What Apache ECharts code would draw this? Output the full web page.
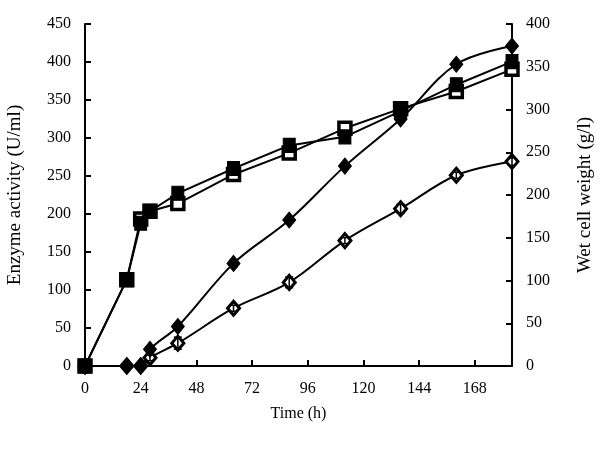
<!DOCTYPE html>
<html>
<head>
<meta charset="utf-8">
<script src="https://cdn.jsdelivr.net/npm/echarts@6/dist/echarts.min.js"></script>
<style>
html,body{margin:0;padding:0;background:#fff;}
#c{width:600px;height:450px;}
</style>
</head>
<body>
<div id="c"></div>
<script>
// Data
const hours = [0, 18, 24, 28, 40, 64, 88, 112, 136, 160, 184];
const enzymeFilled = [0, 0, 0, 22, 52, 135, 192, 263, 325, 397, 421];
const enzymeFilledErr = [0, 0, 0, 3, 4, 5, 4, 4, 4, 4, 4];
const enzymeOpen = [0, 0, 0, 11, 30, 76, 110, 165, 207, 251, 269];
const enzymeOpenErr = [0, 0, 0, 4, 8, 4, 7, 4, 6, 4, 5];
const wcwFilled = [0, 101, 167, 181, 202, 231, 258, 268, 298, 329, 356];
const wcwOpen = [0, 101, 172, 181, 190, 224, 249, 278, 301, 321, 347];
const xTicks = [0, 24, 48, 72, 96, 120, 144, 168];

const pair = (ys) => hours.map((h, i) => [h, ys[i]]);
const errData = (ys, es) => hours.map((h, i) => [h, ys[i], es[i]]).filter(d => d[2] > 0);

const font = 'Liberation Serif';
const txt = {color: '#000', fontFamily: font, fontSize: 16};
const titleTxt = {color: '#000', fontFamily: font, fontSize: 19};

function errRender(params, api) {
  const x = api.value(0), y = api.value(1), e = api.value(2);
  const lo = api.coord([x, y - e]);
  const hi = api.coord([x, y + e]);
  const w = 4;
  const st = {stroke: '#000', lineWidth: 1.5};
  return {type: 'group', children: [
    {type: 'line', shape: {x1: lo[0], y1: lo[1], x2: hi[0], y2: hi[1]}, style: st},
    {type: 'line', shape: {x1: lo[0] - w, y1: lo[1], x2: lo[0] + w, y2: lo[1]}, style: st},
    {type: 'line', shape: {x1: hi[0] - w, y1: hi[1], x2: hi[0] + w, y2: hi[1]}, style: st}
  ]};
}

const axisCommon = {
  axisLine: {show: true, lineStyle: {color: '#000', width: 2}},
  axisTick: {show: true, inside: true, length: 6, lineStyle: {color: '#000', width: 2}},
  splitLine: {show: false}
};

const chart = echarts.init(document.getElementById('c'), null, {renderer: 'canvas'});
chart.setOption({
  animation: false,
  backgroundColor: '#fff',
  grid: {left: 85, right: 88, top: 24, bottom: 84, containLabel: false, outerBoundsMode: 'none'},
  xAxis: Object.assign({}, axisCommon, {
    type: 'value', min: 0, max: 184, interval: 24,
    name: 'Time (h)', nameLocation: 'middle', nameGap: 40, nameTextStyle: txt,
    axisLabel: Object.assign({}, txt, {margin: 15,
      formatter: v => xTicks.indexOf(v) >= 0 ? String(v) : ''})
  }),
  yAxis: [
    Object.assign({}, axisCommon, {
      type: 'value', min: 0, max: 450, interval: 50, position: 'left',
      name: 'Enzyme activity (U/ml)', nameLocation: 'middle', nameGap: 60, nameRotate: 90,
      nameTextStyle: titleTxt,
      axisLabel: Object.assign({}, txt, {margin: 14})
    }),
    Object.assign({}, axisCommon, {
      type: 'value', min: 0, max: 400, interval: 50, position: 'right',
      name: 'Wet cell weight (g/l)', nameLocation: 'middle', nameGap: 64, nameRotate: 90,
      nameTextStyle: titleTxt,
      axisLabel: Object.assign({}, txt, {margin: 14})
    })
  ],
  series: [
    {type: 'line', yAxisIndex: 1, data: pair(wcwOpen), symbol: 'rect', symbolSize: 12,
      lineStyle: {color: '#000', width: 2}, itemStyle: {color: '#fff', borderColor: '#000', borderWidth: 3.5}, z: 3},
    {type: 'line', yAxisIndex: 1, data: pair(wcwFilled), symbol: 'rect', symbolSize: [12, 14],
      lineStyle: {color: '#000', width: 2}, itemStyle: {color: '#000', borderColor: '#000'}, z: 3},
    {type: 'line', yAxisIndex: 0, data: pair(enzymeOpen), symbol: 'diamond', symbolSize: [12, 14], smooth: 0.35,
      lineStyle: {color: '#000', width: 2}, itemStyle: {color: '#fff', borderColor: '#000', borderWidth: 3}, z: 3},
    {type: 'line', yAxisIndex: 0, data: pair(enzymeFilled), symbol: 'diamond', symbolSize: [13, 16], smooth: 0.35,
      lineStyle: {color: '#000', width: 2}, itemStyle: {color: '#000', borderColor: '#000'}, z: 3},
    {type: 'custom', yAxisIndex: 0, data: errData(enzymeOpen, enzymeOpenErr), renderItem: errRender, z: 4},
    {type: 'custom', yAxisIndex: 0, data: errData(enzymeFilled, enzymeFilledErr), renderItem: errRender, z: 4}
  ]
});
</script>
</body>
</html>
